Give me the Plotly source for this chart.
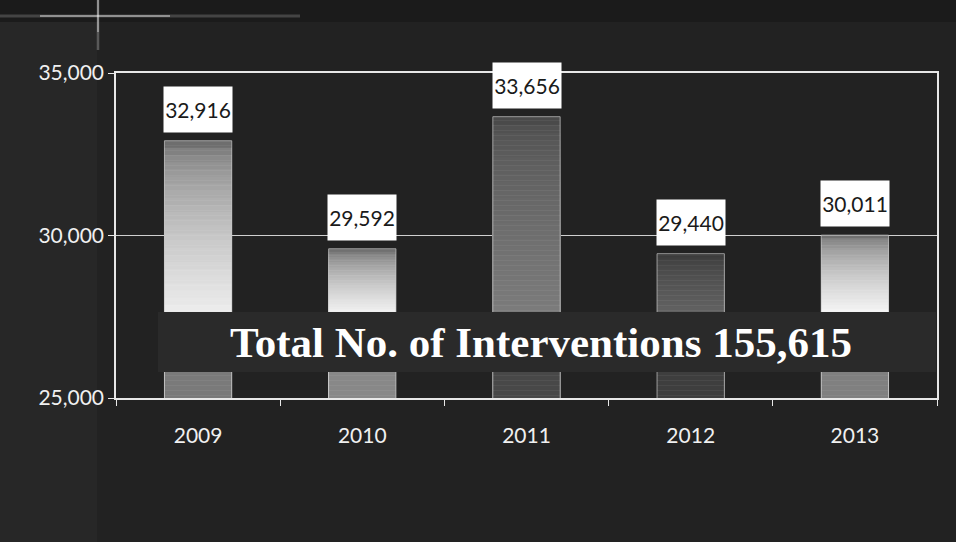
import plotly.graph_objects as go

# ---- data ----
years = ["2009", "2010", "2011", "2012", "2013"]
interventions = [32916, 29592, 33656, 29440, 30011]
value_labels = ["32,916", "29,592", "33,656", "29,440", "30,011"]
y_ticks = [25000, 30000, 35000]
y_tick_labels = ["25,000", "30,000", "35,000"]
total_text = "Total No. of Interventions 155,615"

# ---- styles ----
BG = "#222222"
top_gray = [0x6e, 0x68, 0x4a, 0x38, 0x70]
bottom_gray = [0xee, 0xf2, 0x7c, 0x62, 0xf6]
lower_gray = [0x7a, 0x88, 0x48, 0x3e, 0x80]
N_LEVELS = 24
BANNER_TOP = 27646
BANNER_BOTTOM = 25800
Y_MIN, Y_MAX = 25000, 35000

def g(v):
    v = max(0, min(255, int(round(v))))
    return f"rgb({v},{v},{v})"

fig = go.Figure()

# gradient slices (overlayed, each from the axis up to a fraction of the bar)
for k in range(N_LEVELS):
    t = k / N_LEVELS
    heights = [v - (v - BANNER_TOP) * t for v in interventions]
    cols = [g(a + (b - a) * (t ** 0.6)) for a, b in zip(top_gray, bottom_gray)]
    fig.add_trace(go.Bar(x=years, y=heights, marker=dict(color=cols, line=dict(width=0)),
                         hoverinfo="skip", showlegend=False))
# section under the banner
fig.add_trace(go.Bar(x=years, y=[BANNER_BOTTOM] * len(years),
                     marker=dict(color=[g(c) for c in lower_gray], line=dict(width=0)),
                     hoverinfo="skip", showlegend=False))
# main bars: outline + streaks
fig.add_trace(go.Bar(
    x=years, y=interventions, showlegend=False,
    marker=dict(color="rgba(0,0,0,0)",
                line=dict(color="rgba(200,200,200,0.7)", width=1),
                pattern=dict(shape="-", fgcolor="rgba(255,255,255,0.10)",
                             bgcolor="rgba(0,0,0,0)", size=5, solidity=0.2)),
))

annotations = []
for i, (v, lab) in enumerate(zip(interventions, value_labels)):
    annotations.append(dict(
        x=i, y=v, xref="x", yref="y", text=lab, showarrow=False,
        yanchor="bottom", yshift=8, bgcolor="#ffffff", width=66, height=43,
        borderpad=1, font=dict(family="Lato", size=21, color="#1a1a1a"),
    ))
annotations.append(dict(
    x=0.518, y=(BANNER_TOP + BANNER_BOTTOM) / 2, xref="paper", yref="y",
    text=f"<b>{total_text}</b>", showarrow=False,
    font=dict(family="Liberation Serif", size=43, color="#ffffff"),
))

def px_x(p):  # pixel -> paper x
    return (p - 116) / 821

def px_y(p):  # pixel -> paper y
    return (398 - p) / 325

shapes = [
    dict(type="rect", xref="paper", yref="paper", x0=px_x(0), x1=px_x(956),
         y0=px_y(22), y1=px_y(0), fillcolor="#1b1b1b", line_width=0, layer="below"),
    dict(type="rect", xref="paper", yref="paper", x0=px_x(0), x1=px_x(97),
         y0=px_y(542), y1=px_y(22), fillcolor="#272727", line_width=0, layer="below"),
    dict(type="line", xref="paper", yref="paper", x0=px_x(0), x1=px_x(300),
         y0=px_y(16), y1=px_y(16), line=dict(color="rgba(255,255,255,0.18)", width=3), layer="below"),
    dict(type="line", xref="paper", yref="paper", x0=px_x(40), x1=px_x(170),
         y0=px_y(16), y1=px_y(16), line=dict(color="rgba(255,255,255,0.55)", width=1.5), layer="below"),
    dict(type="line", xref="paper", yref="paper", x0=px_x(98), x1=px_x(98),
         y0=px_y(50), y1=px_y(0), line=dict(color="rgba(255,255,255,0.25)", width=2.5), layer="below"),
    dict(type="line", xref="paper", yref="paper", x0=px_x(98), x1=px_x(98),
         y0=px_y(32), y1=px_y(0), line=dict(color="rgba(255,255,255,0.6)", width=1.2), layer="below"),
    dict(type="rect", xref="paper", yref="y", x0=px_x(158), x1=px_x(936),
         y0=BANNER_BOTTOM, y1=BANNER_TOP, fillcolor="#2a2a2a", line_width=0, layer="above"),
]

fig.update_layout(
    width=956, height=542,
    margin=dict(l=116, r=19, t=73, b=144),
    paper_bgcolor=BG, plot_bgcolor="rgba(0,0,0,0)",
    barmode="overlay", bargap=0.59,
    annotations=annotations, shapes=shapes,
    font=dict(family="Lato", color="#ffffff"),
    xaxis=dict(
        type="category", range=[-0.5, len(years) - 0.5], autorange=False,
        showgrid=False, showline=True, linecolor="#e8e8e8", linewidth=1.5,
        mirror=True, ticks="outside", tickson="boundaries", ticklen=6, tickcolor="#e8e8e8",
        tickfont=dict(family="Lato", size=21, color="#f0f0f0"), ticklabelstandoff=18,
        zeroline=False,
    ),
    yaxis=dict(
        range=[Y_MIN, Y_MAX], autorange=False, tickvals=y_ticks, ticktext=y_tick_labels,
        showgrid=True, gridcolor="#d0d0d0", gridwidth=1,
        showline=True, linecolor="#e8e8e8", linewidth=1.5, mirror=True,
        ticks="outside", ticklen=6, tickcolor="#e8e8e8",
        tickfont=dict(family="Lato", size=21, color="#f0f0f0"), zeroline=False,
    ),
)

fig.write_html("out.html", config={"displayModeBar": False},
               post_script="document.body.style.margin='0';")
